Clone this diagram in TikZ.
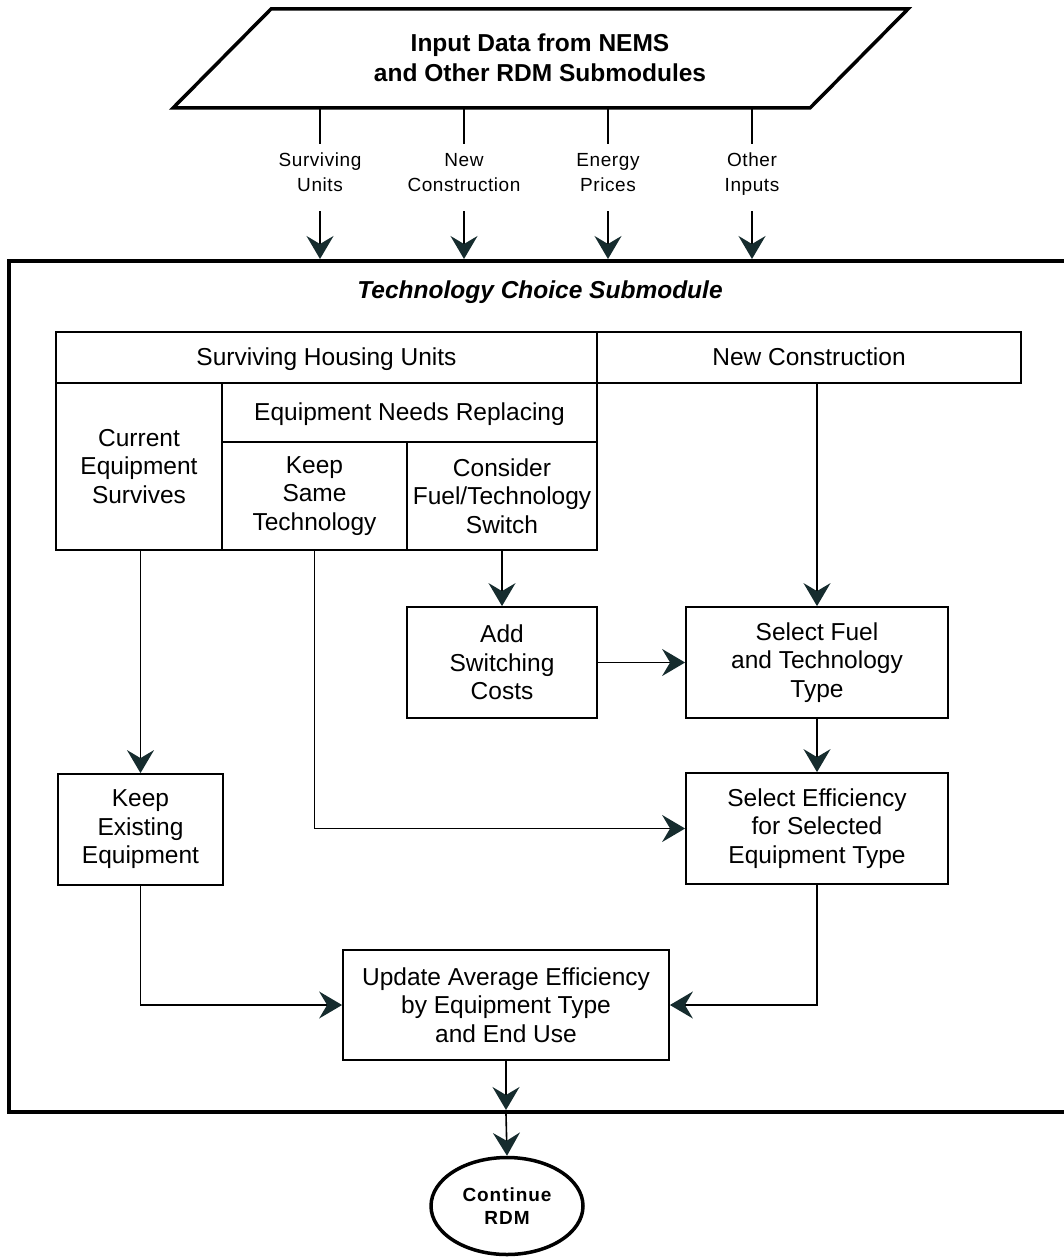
\documentclass[tikz,border=0pt]{standalone}
\usepackage{fontspec}
\setmainfont{Liberation Sans}
\usetikzlibrary{arrows.meta,shapes.geometric}
\definecolor{tipcol}{RGB}{22,44,46}
\newcommand\cstrut{\rule[-6pt]{0pt}{28pt}}
\begin{document}
\begin{tikzpicture}[x=1pt,y=-1pt,
  cell/.style={draw,line width=1.8pt,rectangle,inner sep=0pt,align=center,
    font=\fontsize{24.5}{28.5}\selectfont},
  inlab/.style={inner sep=0pt,align=center,minimum height=61pt,
    font=\fontsize{19}{25}\selectfont\addfontfeature{LetterSpace=3}},
  arr/.style={line width=1.6pt,-{Stealth[length=23pt,width=27pt,inset=8pt,color=tipcol]}},
  plain/.style={line width=1.6pt},
  thick frame/.style={line width=4pt}]
\useasboundingbox (0,0) rectangle (1063,1257);

% input parallelogram
\draw[line width=3.5pt,line join=miter] (271,9) -- (908,9) -- (810,108) -- (173,108) -- cycle;
\node[align=center,font=\fontsize{24.5}{30}\bfseries] (inp) at (540,58)
  {Input Data from NEMS\\and Other RDM Submodules};

% input labels
\node[inlab] (l1) at (320,174.5) {Surviving\strut\\Units\strut};
\node[inlab] (l2) at (464,174.5) {New\strut\\Construction\strut};
\node[inlab] (l3) at (608,174.5) {Energy\strut\\Prices\strut};
\node[inlab] (l4) at (752,174.5) {Other\strut\\Inputs\strut};
\foreach \i/\x in {1/320,2/464,3/608,4/752}{
  \coordinate (p\i) at (\x,108);
  \coordinate (f\i) at (\x,259);
  \draw[plain] (p\i) -- (l\i.north);
  \draw[arr] ([yshift=-6pt]l\i.south) -- (f\i);
}

% frame
\draw[thick frame] (1080,261) -- (9,261) -- (9,1112) -- (1080,1112);
\node[font=\fontsize{24.5}{28}\bfseries\itshape] (title) at (540,292) {Technology Choice Submodule};

% table
\node[cell,minimum width=541pt,minimum height=51pt] (shu) at (326.5,357.5) {\cstrut Surviving Housing Units};
\node[cell,minimum width=424pt,minimum height=51pt] (nc) at (809,357.5) {\cstrut New Construction};
\node[cell,minimum width=166pt,minimum height=167pt] (ces) at (139,466.5) {Current\\Equipment\\Survives};
\node[cell,minimum width=375pt,minimum height=59pt] (enr) at (409.5,412.5) {\cstrut Equipment Needs Replacing};
\node[cell,minimum width=185pt,minimum height=108pt] (kst) at (314.5,496) {Keep\\Same\\Technology};
\node[cell,minimum width=190pt,minimum height=108pt] (cft) at (502,496) {Consider\\Fuel/Technology\\Switch};

% process boxes
\node[cell,minimum width=190pt,minimum height=111pt] (add) at (502,662.5) {Add\\Switching\\Costs};
\node[cell,minimum width=262pt,minimum height=111pt] (sft) at (817,662.5) {Select Fuel\\and Technology\\Type};
\node[cell,minimum width=165pt,minimum height=111pt] (kee) at (140.5,829.5) {Keep\\Existing\\Equipment};
\node[cell,minimum width=262pt,minimum height=111pt] (sef) at (817,828.5) {Select Efficiency\\for Selected\\Equipment Type};
\node[cell,minimum width=326pt,minimum height=110pt] (upd) at (506,1005) {Update Average Efficiency\\by Equipment Type\\and End Use};

% terminal
\node[ellipse,draw,line width=3.5pt,minimum width=152pt,minimum height=97pt,inner sep=0pt,
  align=center,font=\fontsize{19}{23}\bfseries\addfontfeature{LetterSpace=5}] (ell) at (507,1206) {Continue\\RDM};

% connectors
\draw[arr] (cft.south) -- (add.north);
\draw[arr] (sft.north |- nc.south) -- (sft.north);
\draw[arr] (add.east) -- (sft.west);
\draw[arr] (kee.north |- ces.south) -- (kee.north);
\draw[arr] (kst.south) |- (sef.west);
\draw[arr] (sft.south) -- (sef.north);
\draw[arr] (kee.south) |- (upd.west);
\draw[arr] (sef.south) |- (upd.east);
\coordinate (fb) at (506,1110);
\coordinate (fo) at (506,1114);
\draw[arr] (upd.south) -- (fb);
\draw[arr] (fo) -- (ell.north);
\end{tikzpicture}
\end{document}
